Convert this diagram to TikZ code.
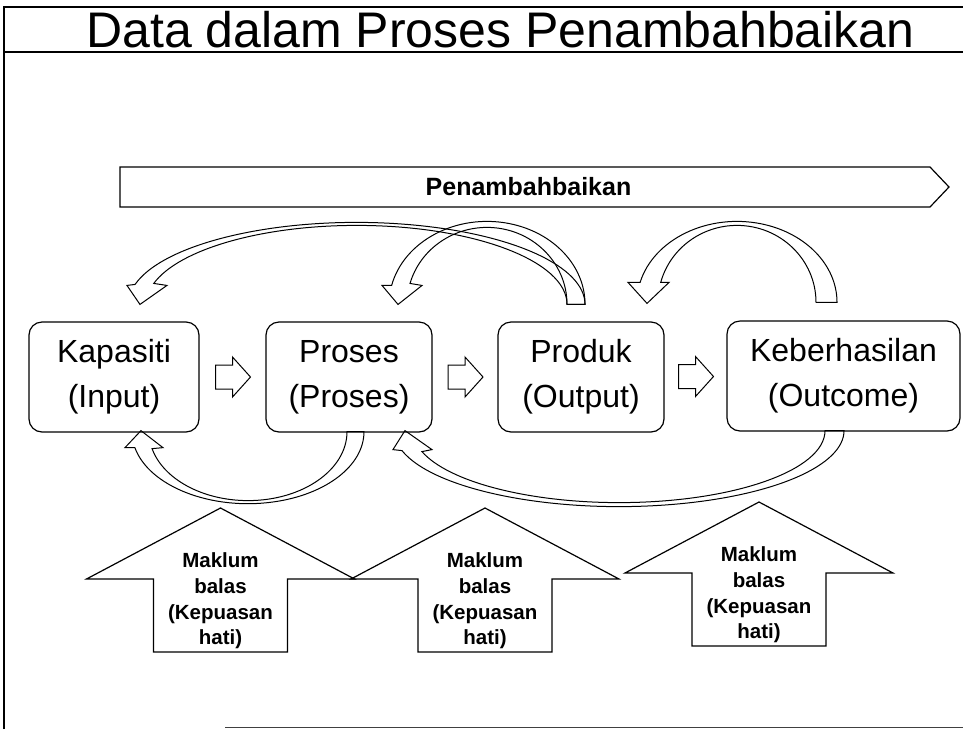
\documentclass[tikz,border=0pt]{standalone}
\usepackage{fontspec}
\setmainfont{Liberation Sans}
\usetikzlibrary{calc}

\begin{document}
\begin{tikzpicture}[x=1pt,y=-1pt,
  stage/.style={draw,line width=1.2pt,rounded corners=13pt,align=center,inner sep=0pt,
    minimum height=110,font=\fontsize{32}{45}\selectfont},
  steparrow/.style={draw,line width=1pt,line join=miter},
  bendarrow/.style={draw,line width=1pt,line join=miter},
  feedback/.style={draw,line width=1.2pt,line join=miter},
  fbtext/.style={align=center,inner sep=0pt,font=\fontsize{20.5}{25.7}\selectfont\bfseries}]

\useasboundingbox (0,0) rectangle (963,729);

% frame and title
\draw[line width=1.3pt] (4,729) -- (4,7) -- (963,7);
\draw[line width=1.3pt] (4,52) -- (963,52);
\draw[line width=1pt,black!75] (225,727) -- (963,727);
\node[font=\fontsize{50}{60}\selectfont,anchor=base] (title) at (500.5,47) {Data dalam Proses Penambahbaikan};

% banner
\node[font=\fontsize{25}{30}\selectfont\bfseries] (tambah) at (528.5,187) {Penambahbaikan};
\draw[line width=1.2pt] (120,167) -- (930,167) -- (949,187) -- (930,207) -- (120,207) -- cycle;

% stages
\node[stage,minimum width=170] (kapasiti) at (114,377) {Kapasiti\\(Input)};
\node[stage,minimum width=166] (proses) at (349,377) {Proses\\(Proses)};
\node[stage,minimum width=166] (produk) at (581,377) {Produk\\(Output)};
\node[stage,minimum width=233] (keber) at (843.5,376) {Keberhasilan\\(Outcome)};

\foreach \a/\b in {kapasiti/proses, proses/produk, produk/keber}
  \draw[steparrow] ($(\a.east)!0.5!(\b.west)$) ++(-17,-12) -- ++(17,0) -- ++(0,-8)
    -- ++(18,20) -- ++(-18,20) -- ++(0,-8) -- ++(-17,0) -- cycle;

% feedback loops above
\draw[bendarrow] ([xshift=-27.5]keber.north) ++(0,-18)
  arc[start angle=0,end angle=-164.94,x radius=79,y radius=77]
  -- ++(8.3,0) -- ++(-22,21) -- ++(-19,-21) -- ++(12.1,0)
  arc[start angle=-165.7,end angle=0,x radius=100,y radius=81] -- cycle;
\draw[bendarrow] ([xshift=-14]produk.north) ++(0,-17)
  arc[start angle=0,end angle=-164.6,x radius=210.4,y radius=79]
  -- ++(13.2,2) -- ++(-27,19) -- ++(-13,-19) -- ++(8.1,-1)
  arc[start angle=-165.9,end angle=0,x radius=228.4,y radius=82] -- cycle;
\draw[bendarrow] ([xshift=-14]produk.north) ++(0,-17)
  arc[start angle=0,end angle=-164.2,x radius=80,y radius=77]
  -- ++(12,2) -- ++(-24,19) -- ++(-16,-19) -- ++(9.6,0)
  arc[start angle=-166.8,end angle=0,x radius=98,y radius=83] -- cycle;

% feedback loops below
\draw[bendarrow] ([xshift=-2]proses.south) ++(0,-1)
  arc[start angle=0,end angle=165.7,x radius=99,y radius=69]
  -- ++(10.9,-1) -- ++(-22,-17) -- ++(-16,17) -- ++(9.9,0)
  arc[start angle=167.2,end angle=0,x radius=116,y radius=72] -- cycle;
\draw[bendarrow] ([xshift=-18.5]keber.south) ++(0,-1)
  arc[start angle=0,end angle=163.04,x radius=206,y radius=72]
  -- ++(10,-2) -- ++(-27,-19) -- ++(-12,19) -- ++(9,1)
  arc[start angle=164.74,end angle=0,x radius=225,y radius=76] -- cycle;

% maklum balas
\foreach \n/\cx/\ty in {fb1/220.5/508, fb2/485/508, fb3/759/502} {
  \node[fbtext] (\n) at (\cx,\ty+93) {Maklum\\balas\\(Kepuasan\\hati)};
  \draw[feedback] (\n.center) ++(0,-93) -- ++(134,71) -- ++(-67,0) -- ++(0,73)
    -- ++(-134,0) -- ++(0,-73) -- ++(-67,0) -- cycle;
}
\end{tikzpicture}
\end{document}
